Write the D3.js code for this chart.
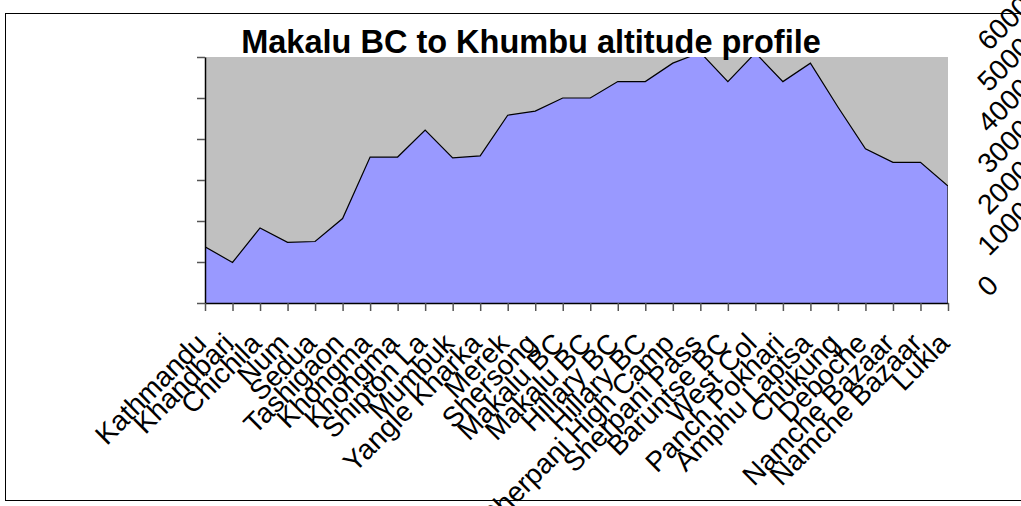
<!DOCTYPE html>
<html>
<head>
<meta charset="utf-8">
<script src="https://cdn.jsdelivr.net/npm/d3@7"></script>
<style>
  body { margin: 0; background: #fff; }
  svg { display: block; font-family: "Liberation Sans", Arial, sans-serif; }
</style>
</head>
<body>
<div id="chart"></div>
<script>
var categories = [
    "Kathmandu", "Khandbari", "Chichila", "Num", "Sedua", "Tashigaon",
    "Khongma", "Khongma", "Shipton La", "Mumbuk", "Yangle Kharka", "Merek",
    "Shersong", "Makalu BC", "Makalu BC", "Hillary BC", "Hillary BC",
    "Sherpani High Camp", "Sherpani Pass", "Baruntse BC", "West Col",
    "Panch Pokhari", "Amphu Laptsa", "Chukung", "Deboche", "Namche Bazaar",
    "Namche Bazaar", "Lukla"
];
var altitudes = [
    1370, 990, 1830, 1480, 1500, 2060,
    3560, 3560, 4220, 3540, 3590, 4580,
    4680, 5000, 5000, 5400, 5400,
    5850, 6110, 5400, 6100,
    5400, 5850, 4780, 3760, 3430,
    3430, 2850
];
var yTicks = [0, 1000, 2000, 3000, 4000, 5000, 6000];
var title = "Makalu BC to Khumbu altitude profile";

var imgWidth = 1021,
    imgHeight = 506;
var plot = {left: 205, right: 948, top: 57, bottom: 303};

var svg = d3.select("#chart").append("svg")
    .attr("width", imgWidth)
    .attr("height", imgHeight);

// outer chart frame (right edge runs off the picture)
svg.append("rect")
    .attr("x", 5.5).attr("y", 13.5)
    .attr("width", 1100).attr("height", 487)
    .attr("fill", "none")
    .attr("stroke", "#000");

var x = d3.scalePoint().domain(d3.range(categories.length)).range([plot.left, plot.right]),
    y = d3.scaleLinear().domain([0, 6000]).range([plot.bottom, plot.top]);

// plot area background
svg.append("rect")
    .attr("x", plot.left).attr("y", plot.top)
    .attr("width", plot.right - plot.left)
    .attr("height", plot.bottom - plot.top)
    .attr("fill", "#c0c0c0");

svg.append("clipPath").attr("id", "clip")
    .append("rect")
    .attr("x", plot.left).attr("y", plot.top)
    .attr("width", plot.right - plot.left)
    .attr("height", plot.bottom - plot.top);

var g = svg.append("g").attr("clip-path", "url(#clip)");

var area = d3.area()
    .x(function(d, i) { return x(i); })
    .y0(y(0))
    .y1(function(d) { return y(d); });
var line = d3.line()
    .x(function(d, i) { return x(i); })
    .y(function(d) { return y(d); });

g.append("path")
    .datum(altitudes)
    .attr("fill", "#9999ff")
    .attr("d", area);

g.append("path")
    .datum(altitudes)
    .attr("fill", "none")
    .attr("stroke", "#000")
    .attr("stroke-width", 1.2)
    .attr("d", line);

// right edge of the area
g.append("line")
    .attr("x1", x(categories.length - 1)).attr("x2", x(categories.length - 1))
    .attr("y1", y(altitudes[altitudes.length - 1])).attr("y2", y(0))
    .attr("stroke", "#333")
    .attr("stroke-width", 1.5);

// axes
svg.append("g")
    .attr("transform", "translate(" + plot.left + ",0)")
    .call(d3.axisLeft(y).tickValues(yTicks).tickSize(8).tickSizeOuter(0).tickFormat(""));
svg.append("g")
    .attr("transform", "translate(0," + plot.bottom + ")")
    .call(d3.axisBottom(x).tickSize(8).tickSizeOuter(0).tickFormat(""));
svg.selectAll(".domain").attr("stroke", "#000").attr("stroke-width", 1.5);
svg.selectAll(".tick line").attr("stroke", "#555").attr("stroke-width", 1.5);

// category labels
svg.append("g").selectAll("text")
    .data(categories)
    .enter().append("text")
    .attr("transform", function(d, i) {
        return "translate(" + (x(i) + 3) + ",345) rotate(-45)";
    })
    .attr("text-anchor", "end")
    .attr("font-size", 28)
    .attr("fill", "#000")
    .text(function(d) { return d; });

// value labels, drawn on the right
svg.append("g").selectAll("text")
    .data(yTicks)
    .enter().append("text")
    .attr("transform", function(d) {
        return "translate(989," + (y(d) - 5) + ") rotate(-45)";
    })
    .attr("text-anchor", "start")
    .attr("font-size", 28)
    .attr("fill", "#000")
    .text(function(d) { return d; });

svg.append("text")
    .attr("x", 531)
    .attr("y", 53)
    .attr("text-anchor", "middle")
    .attr("font-size", 32.5)
    .attr("font-weight", "bold")
    .text(title);
</script>
</body>
</html>
